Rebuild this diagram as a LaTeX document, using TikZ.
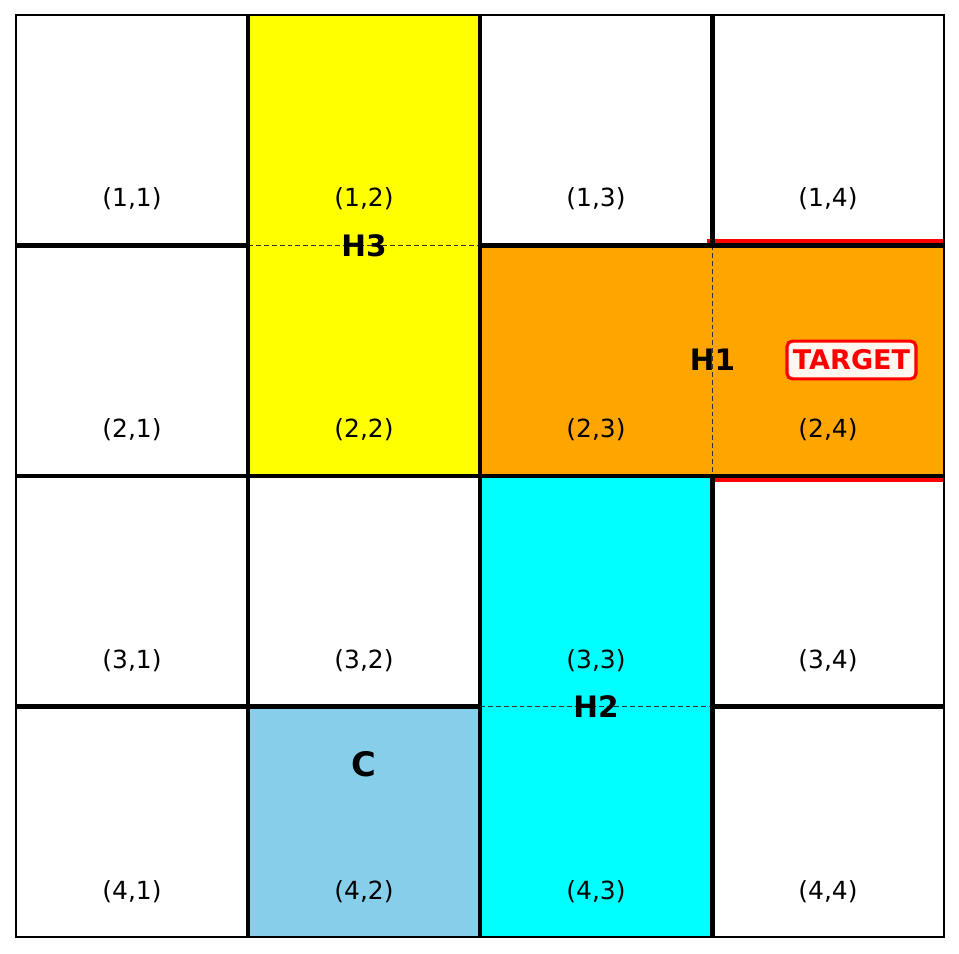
\documentclass[tikz,border=0pt]{standalone}
\usepackage{fontspec}
\setmainfont{DejaVu Sans}

\begin{document}
\begin{tikzpicture}[
            x=0.02cm, y=-0.02cm,
            wall/.style={line width=2.6pt, black},
            frame/.style={line width=1pt, black},
            inner wall/.style={line width=0.75pt, black!80, dash pattern=on 2.8pt off 1.7pt},
            target edge/.style={line width=2.4pt, red},
            room fill/.style={draw=black!60, line width=0.4pt},
            cell label/.style={font=\fontsize{14.2}{16}\selectfont, inner sep=0pt},
            room label/.style={font=\fontsize{16.8}{19}\selectfont\bfseries, inner sep=0pt},
            start label/.style={font=\fontsize{19.2}{22}\selectfont\bfseries, inner sep=0pt},
            target tag/.style={font=\fontsize{15.4}{18}\selectfont\bfseries, text=red,
                draw=red, line width=1.8pt, fill=white!94!orange, rounded corners=3pt,
                inner xsep=3.3pt, inner ysep=0pt, minimum height=21.5pt},
        ]
        \definecolor{hallyellow}{HTML}{FFFF00}
        \definecolor{hallorange}{HTML}{FFA500}
        \definecolor{hallcyan}{HTML}{00FFFF}
        \definecolor{roomblue}{HTML}{87CEEB}

        \useasboundingbox (0,0) rectangle (959,953);

        % grid lines
        \def\xa{16}  \def\xb{248}   \def\xc{480} \def\xd{712.5} \def\xe{944}
        \def\ya{15}  \def\yb{245.5} \def\yc{476} \def\yd{706.5} \def\ye{937}

        % rooms
        \fill[hallyellow] (\xb,\ya) rectangle (\xc,\yc);
        \fill[hallorange] (\xc,\yb) rectangle (\xe,\yc);
        \fill[hallcyan] (\xc,\yc) rectangle (\xd,\ye);
        \filldraw[fill=roomblue, room fill] (\xb,\yd) rectangle (\xc,\ye);

        % target edges
        \draw[target edge] (707,241) -- (\xe,241);
        \draw[target edge] (\xd,479.5) -- (\xe,479.5);

        % open sides inside the halls
        \draw[inner wall] (\xb,\yb) -- (\xc,\yb);
        \draw[inner wall] (\xd,\yb) -- (\xd,\yc);
        \draw[inner wall] (\xc,\yd) -- (\xd,\yd);

        % walls
        \draw[wall] (\xb,\ya) -- (\xb,\ye);
        \draw[wall] (\xc,\ya) -- (\xc,\ye);
        \draw[wall] (\xd,\ya) -- (\xd,\yb);
        \draw[wall] (\xd,\yc) -- (\xd,\ye);
        \draw[wall] (\xa,\yb) -- (\xb,\yb);
        \draw[wall] (\xc,\yb) -- (\xe,\yb);
        \draw[wall] (\xa,\yc) -- (\xe,\yc);
        \draw[wall] (\xa,\yd) -- (\xc,\yd);
        \draw[wall] (\xd,\yd) -- (\xe,\yd);
        \draw[frame] (\xa,\ya) rectangle (\xe,\ye);

        % cell labels
        \foreach \row/\ly in {1/199, 2/430, 3/661, 4/892}
            \foreach \col/\lx in {1/132, 2/364, 3/596, 4/828}
                \node[cell label] (cell\row\col) at (\lx,\ly) {(\row,\col)};

        \node[room label] (h3) at (364,\yb) {H3};
        \node[room label] (h1) at (\xd,360) {H1};
        \node[room label] (h2) at (596,\yd) {H2};
        \node[start label] (start) at (364,764) {C};
        \node[target tag] (target) at (851.5,360) {TARGET};
        \end{tikzpicture}
\end{document}
